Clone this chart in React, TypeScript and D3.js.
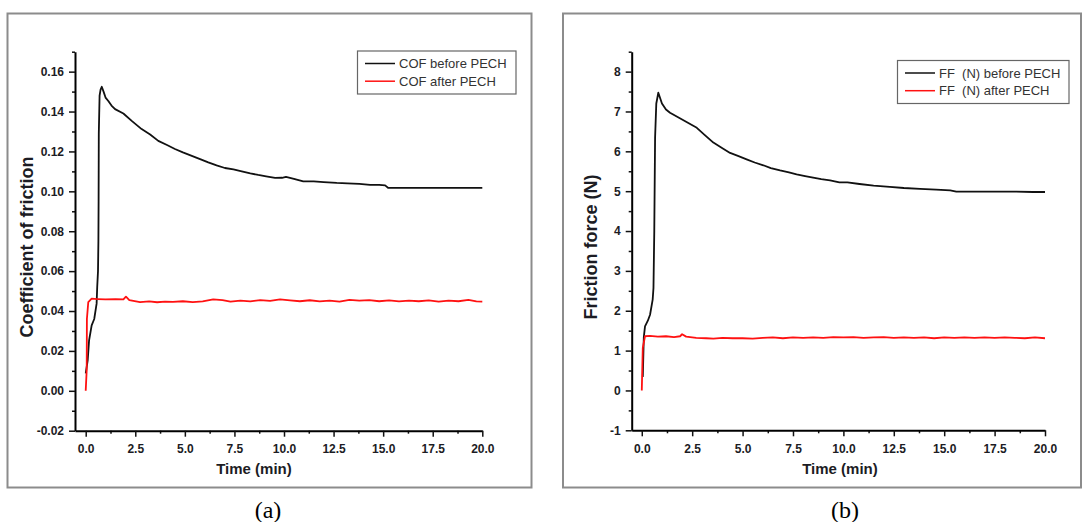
import { useRef, useEffect } from "react";
import * as d3 from "d3";

// time (min), value pairs
const cofBefore: [number, number][] = [
  [0, 0.0087], [0.1, 0.0153], [0.17, 0.0253], [0.3, 0.0328], [0.43, 0.036], [0.55, 0.0437],
  [0.58, 0.052], [0.62, 0.06], [0.64, 0.075], [0.65, 0.095], [0.66, 0.129], [0.7, 0.148],
  [0.75, 0.151], [0.81, 0.1524], [0.9, 0.15], [1.0, 0.147], [1.14, 0.1453], [1.3, 0.143],
  [1.48, 0.1412], [1.9, 0.139], [2.32, 0.1353], [2.82, 0.1312], [3.25, 0.1285], [3.66, 0.1253],
  [4.1, 0.1232], [4.5, 0.1212], [4.9, 0.1195], [5.35, 0.1178], [5.8, 0.116], [6.18, 0.1145],
  [6.6, 0.113], [7.02, 0.1117], [7.45, 0.111], [7.87, 0.11], [8.3, 0.109], [8.7, 0.1082],
  [9.1, 0.1075], [9.55, 0.1067], [9.9, 0.1068], [10.1, 0.1072], [10.5, 0.1063], [10.97, 0.105],
  [11.5, 0.105], [12.0, 0.1046], [12.66, 0.1042], [13.2, 0.104], [13.8, 0.1037], [14.34, 0.1032],
  [14.8, 0.1032], [15.1, 0.103], [15.26, 0.1017], [16, 0.1017], [17, 0.1017], [18, 0.1017],
  [19, 0.1017], [20, 0.1017],
];
const cofAfter: [number, number][] = [
  [0, 0], [0.05, 0.0104], [0.06, 0.036], [0.13, 0.0445], [0.3, 0.0462], [0.6, 0.046],
  [1.0, 0.0458], [1.5, 0.0459], [1.9, 0.0458], [2.03, 0.0472], [2.2, 0.0455], [2.74, 0.0445],
  [3.2, 0.0448], [3.6, 0.0444], [4.0, 0.0447], [4.4, 0.0446], [4.9, 0.0449], [5.4, 0.0445],
  [5.9, 0.0448], [6.43, 0.0458], [6.9, 0.0455], [7.3, 0.0447], [7.8, 0.0452], [8.3, 0.0448],
  [8.8, 0.0455], [9.3, 0.0451], [9.8, 0.0458], [10.3, 0.0453], [10.8, 0.0449], [11.3, 0.0454],
  [11.8, 0.0448], [12.3, 0.0452], [12.8, 0.0447], [13.3, 0.0456], [13.8, 0.0452], [14.3, 0.0455],
  [14.8, 0.0449], [15.3, 0.0453], [15.8, 0.0448], [16.3, 0.0452], [16.8, 0.0449], [17.3, 0.0453],
  [17.8, 0.0447], [18.3, 0.0452], [18.8, 0.0449], [19.3, 0.0456], [19.7, 0.0448], [20, 0.0447],
];
const ffBefore: [number, number][] = [
  [0.05, 0.34], [0.1, 1.33], [0.16, 1.61], [0.3, 1.75], [0.41, 1.9], [0.54, 2.28], [0.58, 2.57],
  [0.62, 4.0], [0.66, 6.34], [0.72, 7.2], [0.82, 7.47], [0.9, 7.35], [1.0, 7.2], [1.2, 7.05],
  [1.4, 6.97], [2.0, 6.8], [2.73, 6.59], [3.1, 6.42], [3.55, 6.22], [4.0, 6.08], [4.38, 5.96],
  [4.8, 5.88], [5.2, 5.8], [5.6, 5.72], [6.03, 5.65], [6.4, 5.58], [6.86, 5.52], [7.3, 5.47],
  [7.68, 5.42], [8.1, 5.38], [8.5, 5.34], [8.9, 5.3], [9.34, 5.27], [9.8, 5.22], [10.2, 5.22],
  [10.8, 5.18], [11.5, 5.14], [12.3, 5.11], [13.0, 5.08], [13.8, 5.06], [14.6, 5.04], [15.3, 5.02],
  [15.6, 4.99], [16.5, 4.99], [17.5, 4.99], [18.5, 4.99], [19.4, 4.98], [20, 4.98],
];
const ffAfter: [number, number][] = [
  [0, 0], [0.02, 0.44], [0.05, 1.07], [0.16, 1.36], [0.4, 1.37], [0.8, 1.35], [1.2, 1.36],
  [1.6, 1.34], [1.9, 1.36], [2.0, 1.41], [2.2, 1.35], [2.7, 1.32], [3.2, 1.31], [3.55, 1.3],
  [4.0, 1.32], [4.5, 1.31], [5.0, 1.31], [5.5, 1.3], [6.0, 1.32], [6.5, 1.33], [7.0, 1.31],
  [7.5, 1.33], [8.0, 1.32], [8.5, 1.33], [9.0, 1.32], [9.5, 1.34], [10.0, 1.33], [10.5, 1.34],
  [11.0, 1.32], [11.5, 1.33], [12.0, 1.34], [12.5, 1.32], [13.0, 1.33], [13.5, 1.32], [14.0, 1.33],
  [14.5, 1.31], [15.0, 1.33], [15.5, 1.32], [16.0, 1.33], [16.5, 1.32], [17.0, 1.33], [17.5, 1.32],
  [18.0, 1.33], [18.5, 1.32], [19.0, 1.31], [19.5, 1.33], [20, 1.31],
];

const xTicks = [0, 2.5, 5, 7.5, 10, 12.5, 15, 17.5, 20];
const cofTicks = [-0.02, 0, 0.02, 0.04, 0.06, 0.08, 0.1, 0.12, 0.14, 0.16];
const ffTicks = [-1, 0, 1, 2, 3, 4, 5, 6, 7, 8];
const cofLegend = ["COF before PECH", "COF after PECH"];
const ffLegend = ["FF  (N) before PECH", "FF  (N) after PECH"];

const FONT = "'Liberation Sans', Arial, sans-serif";

const App = () => {
  const svgRef = useRef<SVGSVGElement>(null);

  useEffect(() => {
    const svg = d3.select(svgRef.current);
    svg.selectAll("*").remove();

    const panels = [
      {
        frame: [7.5, 13.5, 531.5, 487.5], xr: [75, 482.3], xd: [-0.54, 20],
        yr: [430.7, 51.7], yd: [-0.02, 0.17], yt: cofTicks, ym: 0.01, yf: (d: number) => d.toFixed(2),
        series: [cofBefore, cofAfter], legend: cofLegend, lb: [357.5, 51, 158.5, 43],
        yTitle: "Coefficient of friction", yTitleX: 27, xTitleX: 254, cap: "(a)", capX: 268,
      },
      {
        frame: [563, 13.5, 1081, 487.5], xr: [631.7, 1045], xd: [-0.5, 20],
        yr: [430.3, 51.7], yd: [-1, 8.5], yt: ffTicks, ym: 0.5, yf: (d: number) => d.toFixed(0),
        series: [ffBefore, ffAfter], legend: ffLegend, lb: [897.5, 60.5, 171.5, 43],
        yTitle: "Friction force (N)", yTitleX: 591, xTitleX: 840, cap: "(b)", capX: 845,
      },
    ];
    const colors = ["#111111", "#ff1111"];

    panels.forEach((p) => {
      const g = svg.append("g");
      const [fx0, fy0, fx1, fy1] = p.frame;
      g.append("rect")
        .attr("x", fx0).attr("y", fy0)
        .attr("width", fx1 - fx0).attr("height", fy1 - fy0)
        .attr("fill", "none").attr("stroke", "#8c8c8c").attr("stroke-width", 2);

      const x = d3.scaleLinear().domain(p.xd).range(p.xr);
      const y = d3.scaleLinear().domain(p.yd).range(p.yr);
      const y0 = p.yr[0];
      const x0 = p.xr[0];

      // minor ticks
      const xMinor = d3.range(0, 20.01, 1.25).filter((v) => !xTicks.includes(v));
      g.append("g").attr("transform", `translate(0,${y0})`)
        .call(d3.axisBottom(x).tickValues(xMinor).tickSize(3).tickFormat(() => ""))
        .call((a) => a.select(".domain").remove());
      const yMinor = d3.range(p.yd[0], p.yd[1] + p.ym / 2, p.ym)
        .filter((v) => !p.yt.some((t) => Math.abs(t - v) < p.ym / 10));
      g.append("g").attr("transform", `translate(${x0},0)`)
        .call(d3.axisLeft(y).tickValues(yMinor).tickSize(3).tickFormat(() => ""))
        .call((a) => a.select(".domain").remove());

      // major axes
      const xa = g.append("g").attr("transform", `translate(0,${y0})`)
        .call(d3.axisBottom(x).tickValues(xTicks).tickSize(6).tickPadding(8).tickSizeOuter(0)
          .tickFormat((d) => (d as number).toFixed(1)));
      const ya = g.append("g").attr("transform", `translate(${x0},0)`)
        .call(d3.axisLeft(y).tickValues(p.yt).tickSize(6).tickPadding(5).tickSizeOuter(0)
          .tickFormat((d) => p.yf(d as number)));
      [xa, ya].forEach((a) => {
        a.select(".domain").attr("stroke-width", 2);
        a.selectAll("text").attr("font-family", FONT).attr("font-size", 12)
          .attr("font-weight", "bold").attr("fill", "#1c1c24");
      });
      g.selectAll(".tick line").attr("stroke-width", 1.5).attr("stroke", "#111");

      const line = d3.line<[number, number]>().x((d) => x(d[0])).y((d) => y(d[1]));
      p.series.forEach((s, i) => {
        g.append("path").datum(s).attr("d", line)
          .attr("fill", "none").attr("stroke", colors[i]).attr("stroke-width", 1.8)
          .attr("stroke-linejoin", "round");
      });
      // red on top near start, like the reference
      
      // legend
      const [lx, ly, lw, lh] = p.lb;
      g.append("rect").attr("x", lx).attr("y", ly).attr("width", lw).attr("height", lh)
        .attr("fill", "white").attr("stroke", "#666").attr("stroke-width", 1.2);
      p.legend.forEach((t, i) => {
        const yy = ly + 12.5 + i * 17.7;
        g.append("line").attr("x1", lx + 7.5).attr("x2", lx + 37.5).attr("y1", yy).attr("y2", yy)
          .attr("stroke", colors[i]).attr("stroke-width", 1.5);
        g.append("text").attr("x", lx + 41.5).attr("y", yy).attr("dy", "0.35em")
          .attr("font-family", FONT).attr("font-size", 13).attr("fill", "#333")
          .style("white-space", "pre").text(t);
      });

      // titles
      g.append("text").attr("x", p.xTitleX).attr("y", 474)
        .attr("text-anchor", "middle").attr("font-family", FONT).attr("font-size", 15)
        .attr("font-weight", "bold").attr("fill", "#1c1c24").text("Time (min)");
      g.append("text").attr("transform", `translate(${p.yTitleX},247) rotate(-90)`)
        .attr("text-anchor", "middle").attr("dy", "0.35em").attr("font-family", FONT)
        .attr("font-size", 18).attr("font-weight", "bold").attr("fill", "#1c1c24").text(p.yTitle);

      svg.append("text").attr("x", p.capX).attr("y", 518).attr("text-anchor", "middle")
        .attr("font-family", "'Liberation Serif', 'Times New Roman', serif")
        .attr("font-size", 24).attr("fill", "#000").text(p.cap);
    });
  }, []);

  return (
    <svg ref={svgRef} width={1084} height={522}
      style={{ position: "absolute", left: 0, top: 0, background: "#fff" }} />
  );
};

export default App;
